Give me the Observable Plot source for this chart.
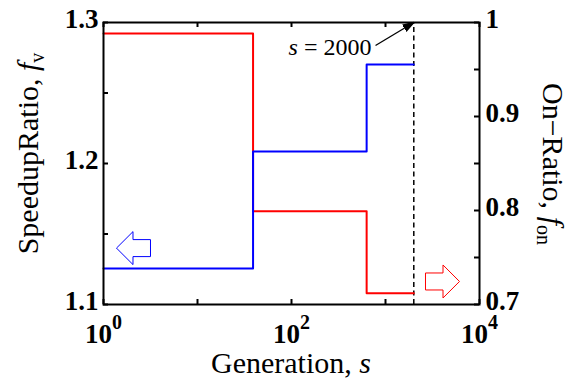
<!DOCTYPE html>
<html><head><meta charset="utf-8">
<script src="https://cdn.jsdelivr.net/npm/d3@7"></script>
<script src="https://cdn.jsdelivr.net/npm/@observablehq/plot@0.6"></script>
<style>
body{margin:0;background:#fff;}
svg text{font-family:"Liberation Serif","Times New Roman",serif;}
</style>
</head><body><div id="chart"></div>
<script>
// ---- data ----
const generationSteps = [1, 39, 630, 2000];          // step boundaries (generation s)
const speedupRatio = [1.1255, 1.2085, 1.2702];       // blue, left axis f_v
const onRatio = [0.9883, 0.7993, 0.712];             // red, right axis f_on
const markerGeneration = 2000;                       // dashed line s = 2000
const leftDomain = [1.1, 1.3];
const rightDomain = [0.7, 1.0];
const xDomain = [1, 10000];
const xTicksAll = [1, 10, 100, 1000, 10000];
const xTicksLabeled = [1, 100, 10000];
const leftTicksAll = [1.1, 1.15, 1.2, 1.25, 1.3];
const leftTicksLabeled = [1.1, 1.2, 1.3];
const rightTicksAll = [0.7, 0.75, 0.8, 0.85, 0.9, 0.95, 1.0];
const rightTicksLabeled = [0.7, 0.8, 0.9, 1.0];
const annotationTail = {generation: 783, value: 1.2837};
const blueArrowAt = {generation: 2.085, value: 1.140};
const redArrowAt = {generation: 4040, onRatio: 0.7245};

// ---- layout ----
const W = 570, H = 383;
const margin = {top: 22, right: 91, bottom: 79, left: 103};
const innerW = W - margin.left - margin.right;
const innerH = H - margin.top - margin.bottom;
const tickLen = 5;
const blue = "#0000ff", red = "#ff0000";

const toLeft = on => leftDomain[0] + (on - rightDomain[0]) * (leftDomain[1] - leftDomain[0]) / (rightDomain[1] - rightDomain[0]);
const toRight = v => rightDomain[0] + (v - leftDomain[0]) * (rightDomain[1] - rightDomain[0]) / (leftDomain[1] - leftDomain[0]);

function stepPoints(values) {
  const pts = values.map((v, i) => ({x: generationSteps[i], y: v}));
  pts.push({x: generationSteps[generationSteps.length - 1], y: values[values.length - 1]});
  return pts;
}
const blueLine = stepPoints(speedupRatio);
const redLine = stepPoints(onRatio.map(toLeft));

function hollowArrow(dir) {
  const pts = [[-1, 0], [-0.03, -0.97], [-0.03, -0.5], [1, -0.5], [1, 0.5], [-0.03, 0.5], [-0.03, 0.97]];
  return {draw(ctx, size) {
    const r = Math.sqrt(size / Math.PI);
    pts.forEach(([x, y], i) => { const px = dir * x * r, py = y * r; i ? ctx.lineTo(px, py) : ctx.moveTo(px, py); });
    ctx.closePath();
  }};
}

function filledArrowMarker(color, context) {
  const doc = (context && context.document) || document;
  const ns = "http://www.w3.org/2000/svg";
  const m = doc.createElementNS(ns, "marker");
  m.setAttribute("viewBox", "-11 -5 12 10");
  m.setAttribute("markerWidth", 12);
  m.setAttribute("markerHeight", 10);
  m.setAttribute("markerUnits", "userSpaceOnUse");
  m.setAttribute("orient", "auto");
  m.setAttribute("refX", 0);
  m.setAttribute("refY", 0);
  const p = doc.createElementNS(ns, "path");
  p.setAttribute("d", "M-11,-3.6L0,0L-11,3.6Z");
  p.setAttribute("fill", "black");
  m.appendChild(p);
  return m;
}

const tickFont = {fontSize: 27, fontWeight: "bold", fontFamily: "Liberation Serif"};

const chart = Plot.plot({
  width: W, height: H,
  marginTop: margin.top, marginRight: margin.right, marginBottom: margin.bottom, marginLeft: margin.left,
  style: {background: "white", fontFamily: "Liberation Serif", color: "black"},
  x: {type: "log", domain: xDomain},
  y: {domain: leftDomain},
  marks: [
    Plot.ruleX([markerGeneration], {y1: leftDomain[0], y2: leftDomain[1], stroke: "black", strokeWidth: 1.5, strokeDasharray: "5,3.5"}),
    Plot.line(redLine, {x: "x", y: "y", curve: "step-after", stroke: red, strokeWidth: 2}),
    Plot.line(blueLine, {x: "x", y: "y", curve: "step-after", stroke: blue, strokeWidth: 2}),
    Plot.dot([blueArrowAt], {x: "generation", y: "value", r: 17, symbol: hollowArrow(1), stroke: blue, fill: "none", strokeWidth: 1}),
    Plot.dot([redArrowAt], {x: "generation", y: d => toLeft(d.onRatio), r: 17, symbol: hollowArrow(-1), stroke: red, fill: "none", strokeWidth: 1}),
    Plot.link([annotationTail], {x1: "generation", y1: "value", x2: () => markerGeneration, y2: () => leftDomain[1], stroke: "black", strokeWidth: 1.3, markerEnd: filledArrowMarker}),
    Plot.text([annotationTail], {x: "generation", y: "value", text: () => "s = " + markerGeneration, textAnchor: "end", lineAnchor: "bottom", dx: -4, dy: 10, fontSize: 24, fill: "black", ariaLabel: () => "annotation"}),
    // inward ticks
    Plot.tickX(xTicksAll, {x: d => d, insetTop: innerH - tickLen, stroke: "black", strokeWidth: 2}),
    Plot.tickX(xTicksAll, {x: d => d, insetBottom: innerH - tickLen, stroke: "black", strokeWidth: 2}),
    Plot.tickY(leftTicksAll, {y: d => d, insetRight: innerW - tickLen, stroke: "black", strokeWidth: 2}),
    Plot.tickY(rightTicksAll.map(toLeft), {y: d => d, insetLeft: innerW - tickLen, stroke: "black", strokeWidth: 2}),
    Plot.frame({stroke: "black", strokeWidth: 2}),
    // tick labels
    Plot.axisX(xTicksLabeled, {anchor: "bottom", tickSize: 0, tickPadding: 19, label: null, tickFormat: d => "10^" + Math.round(Math.log10(d)), ...tickFont}),
    Plot.axisY(leftTicksLabeled, {anchor: "left", tickSize: 0, tickPadding: 5, dy: -3, label: null, tickFormat: d => d.toFixed(1), ...tickFont}),
    Plot.axisY(rightTicksLabeled.map(toLeft), {anchor: "right", tickSize: 0, tickPadding: 6, dy: -3, label: null, tickFormat: d => String(Math.round(toRight(d) * 100) / 100), ...tickFont})
  ]
});

document.getElementById("chart").appendChild(chart);
const svg = d3.select(chart);

// superscripts on x tick labels
svg.selectAll('g[aria-label="x-axis tick label"] text').each(function () {
  const t = d3.select(this);
  const [base, exp] = t.text().split("^");
  t.text(null);
  t.append("tspan").text(base);
  t.append("tspan").attr("dy", -14).attr("font-size", 20).text(exp);
});

// italic s in annotation
svg.selectAll('text[aria-label="annotation"], g[aria-label="annotation"] text').each(function () {
  const t = d3.select(this);
  const rest = t.text().slice(1);
  t.text(null);
  t.append("tspan").attr("font-style", "italic").text("s");
  t.append("tspan").text(rest);
});

function axisTitle(x, y, rotate, parts) {
  const t = svg.append("text")
    .attr("transform", `translate(${x},${y}) rotate(${rotate})`)
    .attr("text-anchor", "middle")
    .attr("font-size", 30)
    .attr("fill", "black");
  parts.forEach(p => {
    const s = t.append("tspan").text(p.text);
    if (p.italic) s.attr("font-style", "italic");
    if (p.sub) s.attr("font-size", 20).attr("dy", 6);
  });
}
axisTitle(38, 153.5, -90, [{text: "SpeedupRatio, "}, {text: "f", italic: true}, {text: "v", sub: true}]);
axisTitle(543, 164, 90, [{text: "On\u2212Ratio, "}, {text: "f", italic: true}, {text: "on", sub: true}]);
axisTitle(margin.left + innerW / 2, 373, 0, [{text: "Generation, "}, {text: "s", italic: true}]);
</script>
</body></html>
